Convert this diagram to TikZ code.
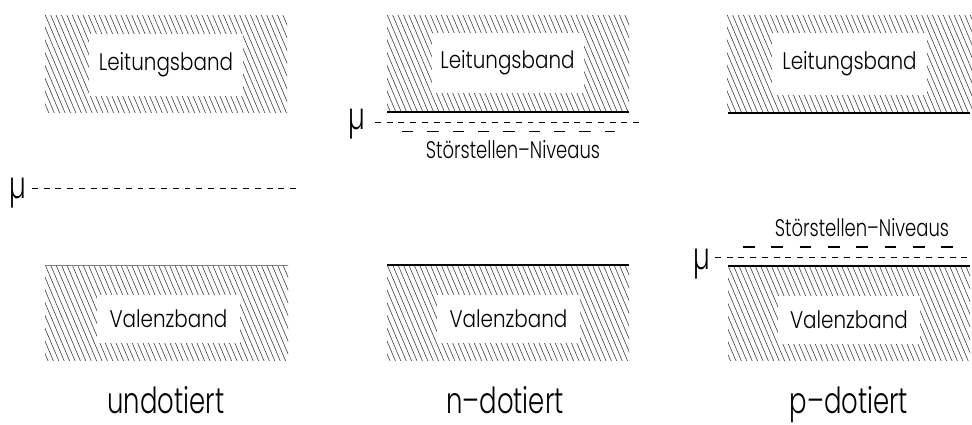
\documentclass[tikz,border=0pt]{standalone}
\usepackage{fontspec}
\setmainfont{Poppins}[UprightFont={* Light}]
\newcommand\narrowtxt[2][0.83]{\scalebox{#1}[1]{#2}}
\begin{document}
\begin{tikzpicture}[x=0.75pt,y=-0.75pt]
\useasboundingbox (0,0) rectangle (972,425);
\tikzset{
  hatchline/.style={line width=0.45pt, black!75},
  bandedge/.style={line width=1.5pt, line cap=butt},
  fermi/.style={line width=0.6pt, dash pattern=on 4.4pt off 4.4pt},
  impurityn/.style={line width=1.1pt, dash pattern=on 8.5pt off 10.5pt},
  impurityp/.style={line width=1.1pt, dash pattern=on 8.75pt off 12.5pt},
  bandbox/.style={fill=white, inner sep=0pt, font=\fontsize{18}{18}\selectfont},
  mulabel/.style={inner sep=0pt, font=\fontsize{28}{28}\selectfont},
  levellabel/.style={inner sep=0pt, font=\fontsize{18}{18}\selectfont},
  dopinglabel/.style={inner sep=0pt, anchor=base, font=\fontsize{27}{27}\selectfont}
}
% hatched band: corners (x1,y1) and (x2,y2), in pixel units
\newcommand\hatchband[4]{%
  \begin{scope}
    \clip (#1,#2) rectangle (#3,#4);
    \foreach \i in {-60,-54.6,...,260}
      \draw[hatchline] ({#1+\i},{#2-2}) -- ++(44,104);
  \end{scope}}

% ---- undotiert ----
\hatchband{45}{15}{287}{112}
\node[bandbox, minimum width=116pt, minimum height=47pt] (lb1) at (166,65) {\narrowtxt{Leitungsband}};
\hatchband{45}{265}{288}{360}
\draw[line width=0.3pt, black!50] (45,265) -- (288,265);
\node[bandbox, minimum width=107pt, minimum height=36pt] (vb1) at (168.5,319) {\narrowtxt{Valenzband}};
\node[mulabel] (mu1) at (18,193) {\narrowtxt[0.7]{µ}};
\coordinate (f1l) at (32,188);
\coordinate (f1r) at (300,188);
\draw[fermi] (f1l) -- (f1r);
\node[dopinglabel] (d1) at (166,413) {\narrowtxt[0.72]{undotiert}};

% ---- n-dotiert ----
\hatchband{387}{15}{629}{112}
\node[bandbox, minimum width=114pt, minimum height=45pt] (lb2) at (507.5,63) {\narrowtxt{Leitungsband}};
\coordinate (cb2l) at (387,112);
\coordinate (cb2r) at (629,112);
\draw[bandedge] (cb2l) -- (cb2r);
\node[mulabel] (mu2) at (357,124) {\narrowtxt[0.7]{µ}};
\coordinate (f2l) at (375,122.7);
\coordinate (f2r) at (640,122.7);
\draw[fermi] (f2l) -- (f2r);
\coordinate (i2l) at (402,131.5);
\coordinate (i2r) at (615,131.5);
\draw[impurityn] (i2l) -- (i2r);
\node[levellabel] (st2) at (513,150) {\narrowtxt[0.75]{Störstellen–Niveaus}};
\hatchband{387}{265}{629}{360}
\coordinate (vb2l) at (387,265);
\coordinate (vb2r) at (629,265);
\draw[bandedge] (vb2l) -- (vb2r);
\node[bandbox, minimum width=107pt, minimum height=36pt] (vb2) at (508.5,319) {\narrowtxt{Valenzband}};
\node[dopinglabel] (d2) at (505,413) {\narrowtxt[0.72]{n–dotiert}};

% ---- p-dotiert ----
\hatchband{727}{15}{972}{113}
\node[bandbox, minimum width=116pt, minimum height=46pt] (lb3) at (849.5,64) {\narrowtxt{Leitungsband}};
\coordinate (cb3l) at (728,113);
\coordinate (cb3r) at (970,113);
\draw[bandedge] (cb3l) -- (cb3r);
\node[levellabel] (st3) at (862,228) {\narrowtxt[0.75]{Störstellen–Niveaus}};
\coordinate (i3l) at (743,247);
\coordinate (i3r) at (953,247);
\draw[impurityp] (i3l) -- (i3r);
\node[mulabel] (mu3) at (702,264) {\narrowtxt[0.7]{µ}};
\coordinate (f3l) at (715,257);
\coordinate (f3r) at (970,257);
\draw[fermi] (f3l) -- (f3r);
\coordinate (vb3l) at (728,266);
\coordinate (vb3r) at (970,266);
\hatchband{728}{266}{970}{360}
\draw[bandedge] (vb3l) -- (vb3r);
\node[bandbox, minimum width=107pt, minimum height=36pt] (vb3) at (849,320) {\narrowtxt{Valenzband}};
\node[dopinglabel] (d3) at (849,413) {\narrowtxt[0.72]{p–dotiert}};
\end{tikzpicture}
\end{document}
